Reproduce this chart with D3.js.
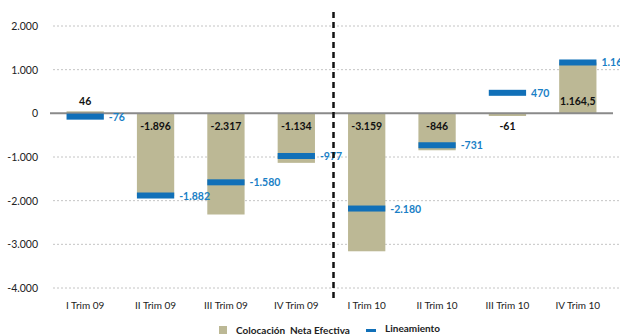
<!DOCTYPE html>
<html>
<head>
<meta charset="utf-8">
<script src="https://cdn.jsdelivr.net/npm/d3@7"></script>
<style>
  html, body { margin: 0; padding: 0; background: #fff; }
  svg { display: block; font-family: Lato, "Open Sans", sans-serif; }
</style>
</head>
<body>
<svg id="chart" width="620" height="335"></svg>
<script>
// Quarterly data
const categories = ["I Trim 09", "II Trim 09", "III Trim 09", "IV Trim 09",
                    "I Trim 10", "II Trim 10", "III Trim 10", "IV Trim 10"];
const colocacion = [46, -1896, -2317, -1134, -3159, -846, -61, 1164.5];
const lineamiento = [-76, -1882, -1580, -977, -2180, -731, 470, 1164.5];
const yTicks = [2000, 1000, 0, -1000, -2000, -3000, -4000];
const dividerAfter = "IV Trim 09";

const svg = d3.select("#chart");
const W = 620, H = 335;
const plot = { left: 50, right: 613, top: 26, bottom: 288 };

const BAR = "#bcb895";
const BLUE = "#1170b8";
const BLUE_TEXT = "#1a7fc6";

// Spanish number format: "." thousands, "," decimals, plain hyphen minus
const esLocale = d3.formatLocale({ decimal: ",", thousands: ".", grouping: [3], currency: ["", ""], minus: "-" });
const fmtInt = esLocale.format(",.0f");
const fmtOne = esLocale.format(",.1f");
const fmt = v => Number.isInteger(v) ? fmtInt(v) : fmtOne(v);

const x = d3.scaleBand().domain(categories).range([plot.left, plot.right])
  .paddingInner(0.47).paddingOuter(0.235);
const y = d3.scaleLinear().domain([-4000, 2000]).range([plot.bottom, plot.top]);

// Gridlines
svg.append("g").selectAll("line").data(yTicks.filter(d => d !== 0)).join("line")
  .attr("x1", plot.left + 3).attr("x2", W)
  .attr("y1", d => y(d)).attr("y2", d => y(d))
  .attr("stroke", "#c4c4c4").attr("stroke-width", 1).attr("stroke-dasharray", "2,2");

// Y axis labels
const yAxis = d3.axisLeft(y).tickValues(yTicks).tickSize(0).tickPadding(0).tickFormat(fmtInt);
const gy = svg.append("g").attr("transform", `translate(${plot.left - 12},0)`).call(yAxis);
gy.select(".domain").remove();
gy.selectAll("text").attr("font-size", 10.5).attr("fill", "#222").attr("font-family", "Lato, sans-serif");

// Bars
svg.append("g").selectAll("rect").data(categories).join("rect")
  .attr("x", d => x(d))
  .attr("width", x.bandwidth())
  .attr("y", (d, i) => Math.min(y(colocacion[i]), y(0)))
  .attr("height", (d, i) => Math.abs(y(colocacion[i]) - y(0)))
  .attr("fill", BAR);

// Zero line
svg.append("line")
  .attr("x1", plot.left).attr("x2", plot.right)
  .attr("y1", y(0)).attr("y2", y(0))
  .attr("stroke", "#8a8a8a").attr("stroke-width", 2);

// Lineamiento markers
const markH = 6;
svg.append("g").selectAll("rect").data(categories).join("rect")
  .attr("x", d => x(d))
  .attr("width", x.bandwidth())
  .attr("y", (d, i) => y(lineamiento[i]) - markH / 2)
  .attr("height", markH)
  .attr("fill", BLUE);

// Bar value labels, placed at the base of each bar
svg.append("g").selectAll("text").data(categories).join("text")
  .attr("x", d => x(d) + x.bandwidth() / 2)
  .attr("y", (d, i) => colocacion[i] >= 0 ? y(0) - 8 : y(0) + 17)
  .attr("text-anchor", "middle")
  .attr("font-size", 10.5).attr("font-weight", "bold").attr("fill", "#111")
  .text((d, i) => fmt(colocacion[i]));

// Lineamiento labels
svg.append("g").selectAll("text").data(categories).join("text")
  .attr("x", d => x(d) + x.bandwidth() + 5)
  .attr("y", (d, i) => y(lineamiento[i]) + 4)
  .attr("font-size", 10.5).attr("font-weight", "bold").attr("fill", BLUE_TEXT)
  .text((d, i) => fmt(lineamiento[i]));

// X axis labels
const xAxis = d3.axisBottom(x).tickSize(0).tickPadding(0);
const gx = svg.append("g").attr("transform", `translate(0,${plot.bottom + 14})`).call(xAxis);
gx.select(".domain").remove();
gx.selectAll("text").attr("font-size", 10).attr("fill", "#222").attr("font-family", "Lato, sans-serif");

// Divider between years
const xDiv = x(dividerAfter) + x.bandwidth() + x.step() * x.paddingInner() / 2 + 2;
svg.append("line")
  .attr("x1", xDiv).attr("x2", xDiv).attr("y1", 12).attr("y2", 302)
  .attr("stroke", "#111").attr("stroke-width", 2.5).attr("stroke-dasharray", "6,4");

// Legend
const lg = svg.append("g");
lg.append("rect").attr("x", 219).attr("y", 326).attr("width", 8).attr("height", 8).attr("fill", BAR);
lg.append("text").attr("x", 236).attr("y", 333.5)
  .attr("font-size", 10).attr("font-weight", "bold").attr("fill", "#222")
  .attr("xml:space", "preserve").style("white-space", "pre")
  .text("Colocación  Neta Efectiva");
lg.append("rect").attr("x", 366).attr("y", 329).attr("width", 10).attr("height", 3).attr("fill", BLUE);
lg.append("text").attr("x", 385).attr("y", 332)
  .attr("font-size", 10).attr("font-weight", "bold").attr("fill", "#222")
  .text("Lineamiento");
</script>
</body>
</html>
